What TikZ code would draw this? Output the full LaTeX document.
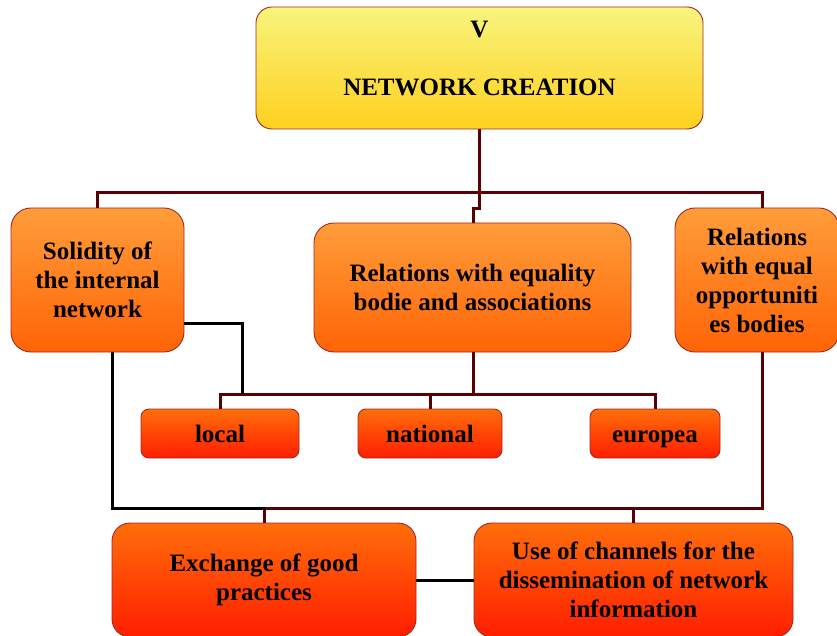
\documentclass[tikz,border=0pt]{standalone}
\usepackage{fontspec}
\setmainfont{Liberation Serif}
\definecolor{bord}{RGB}{160,40,40}
\definecolor{conn}{RGB}{90,0,5}
\definecolor{yelT}{RGB}{248,244,125}
\definecolor{yelB}{RGB}{255,208,30}
\definecolor{orT}{RGB}{255,157,58}
\definecolor{orB}{RGB}{255,100,6}
\definecolor{rdT}{RGB}{255,110,10}
\definecolor{rdB}{RGB}{255,30,0}
\begin{document}
\begin{tikzpicture}[x=1pt,y=-1pt,
  boxbase/.style={draw=bord, line width=0.9pt, align=center, inner sep=0pt,
    font=\fontsize{25}{29}\selectfont\bfseries},
  yelbox/.style={boxbase, rounded corners=16pt, top color=yelT, bottom color=yelB},
  orbox/.style={boxbase, rounded corners=20pt, top color=orT, bottom color=orB},
  smallbox/.style={boxbase, rounded corners=8pt, top color=rdT, bottom color=rdB,
    text height=17pt, text depth=0pt},
  rdbox/.style={boxbase, rounded corners=18pt, top color=rdT, bottom color=rdB},
  conn/.style={draw=conn, line width=3pt},
  blk/.style={draw=black, line width=3pt},
  txt/.style={align=center, inner sep=0pt, font=\fontsize{25}{29}\selectfont\bfseries}]
\useasboundingbox (0,0) rectangle (837,636);

% boxes
\node[yelbox, minimum width=447pt, minimum height=122pt] (top) at (479.5,68) {};
\node[txt] (toptext) at (479.5,59) {V\\[29pt]NETWORK CREATION};

\node[orbox, minimum width=173pt, minimum height=144pt] (sol) at (97.5,280) {Solidity of\\the internal\\network};
\node[orbox, minimum width=317pt, minimum height=129pt] (mid) at (472.5,287.5) {Relations with equality\\bodie and associations};
\node[orbox, minimum width=164pt, minimum height=144pt] (rel) at (757,280) {Relations\\with equal\\opportuniti\\es bodies};

\node[smallbox, minimum width=158pt, minimum height=49pt] (loc) at (220,433.5) {local};
\node[smallbox, minimum width=144pt, minimum height=49pt] (nat) at (430,433.5) {national};
\node[smallbox, minimum width=130pt, minimum height=49pt] (eur) at (655,433.5) {europea};

\node[rdbox, minimum width=304pt, minimum height=114pt] (ex) at (264,580) {Exchange of good\\practices};
\node[rdbox, minimum width=319pt, minimum height=114pt] (use) at (633.5,580) {Use of channels for the\\dissemination of network\\information};

% upper connectors
\coordinate (b1) at (97,193);
\coordinate (b2) at (762,193);
\coordinate (j) at (473,209);
\draw[conn] (sol.north -| b1) -- (b1) -- (b2) -- (rel.north -| b2);
\draw[conn] (top.south) -- (top.south |- b1) |- (j) -- (mid.north -| j);

% middle connectors
\coordinate (m1) at (220,394);
\draw[conn] (mid.south -| j) -- (j |- m1);
\draw[conn] (loc.north) -- (loc.north |- m1) -- (eur.north |- m1) -- (eur.north);
\draw[conn] (nat.north) -- (nat.north |- m1);
\coordinate (k1) at (242,394);
\draw[blk] ([yshift=-43pt]sol.east) -| (k1);

% lower connectors
\coordinate (l0) at (112,508);
\coordinate (l1) at (265,508);
\coordinate (l2) at (762,508);
\draw[conn] (l1) -- (l2) -- (rel.south -| l2);
\draw[conn] (ex.north) -- (ex.north |- l1);
\draw[conn] (use.north) -- (use.north |- l1);
\draw[blk] (sol.south -| l0) -- (l0) -- (l1);
\draw[blk] (ex.east) -- (use.west |- ex.east);
\end{tikzpicture}
\end{document}
